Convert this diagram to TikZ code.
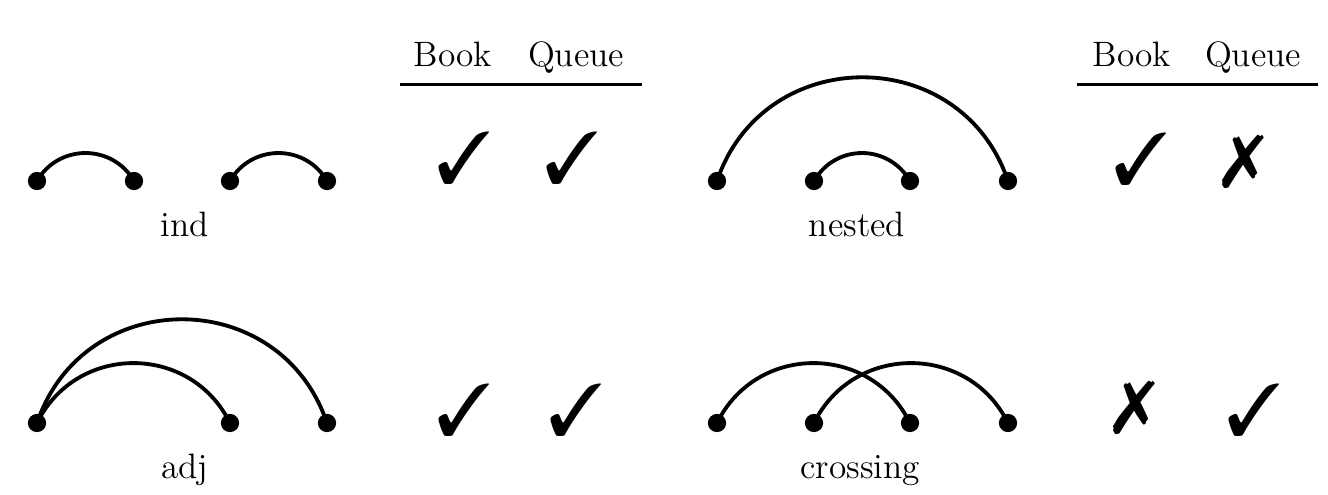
\documentclass[tikz,border=0pt]{standalone}
\usepackage{pifont}
\begin{document}
\begin{tikzpicture}[x=0.34pt,y=-0.34pt,
  dot/.style={circle,fill=black,inner sep=0pt,minimum size=6.2pt},
  arcline/.style={line width=1.3pt},
  lbl/.style={anchor=base,inner sep=0pt,font=\large},
  hdr/.style={anchor=base,inner sep=0pt,font=\large},
  rulel/.style={line width=0.9pt},
  tick/.style={inner sep=0pt,font=\Huge}]
\useasboundingbox (0,0) rectangle (1328,495);
% ---- ind ----
\node[dot] (i1) at (37,181) {};
\node[dot] (i2) at (134,181) {};
\node[dot] (i3) at (230,181) {};
\node[dot] (i4) at (327,181) {};
\draw[arcline] (i1.center) .. controls +(21.6,-37.3) and +(-21.6,-37.3) .. (i2.center);
\draw[arcline] (i3.center) .. controls +(21.6,-37.3) and +(-21.6,-37.3) .. (i4.center);
\node[lbl] (lind) at (185,236) {ind};
% ---- adj ----
\node[dot] (a1) at (37,423) {};
\node[dot] (a3) at (230,423) {};
\node[dot] (a4) at (327,423) {};
\draw[arcline] (a1.center) .. controls +(39.5,-79.9) and +(-39.5,-79.9) .. (a3.center);
\draw[arcline] (a1.center) .. controls +(46.8,-138.3) and +(-46.8,-138.3) .. (a4.center);
\node[lbl] (ladj) at (185,478) {adj};
% ---- nested ----
\node[dot] (n1) at (717,181) {};
\node[dot] (n2) at (814,181) {};
\node[dot] (n3) at (910,181) {};
\node[dot] (n4) at (1008,181) {};
\draw[arcline] (n1.center) .. controls +(46.8,-138.3) and +(-46.8,-138.3) .. (n4.center);
\draw[arcline] (n2.center) .. controls +(21.6,-37.3) and +(-21.6,-37.3) .. (n3.center);
\node[lbl] (lnested) at (857,236) {nested};
% ---- crossing ----
\node[dot] (c1) at (717,423) {};
\node[dot] (c2) at (814,423) {};
\node[dot] (c3) at (910,423) {};
\node[dot] (c4) at (1008,423) {};
\draw[arcline] (c1.center) .. controls +(39.5,-79.9) and +(-39.5,-79.9) .. (c3.center);
\draw[arcline] (c2.center) .. controls +(39.5,-79.9) and +(-39.5,-79.9) .. (c4.center);
\node[lbl] (lcross) at (860,478) {crossing};
% ---- tables ----
\node[hdr] (hb1) at (453,66) {Book};
\node[hdr] (hq1) at (576,66) {Queue};
\coordinate (r1a) at (400,84.5);
\coordinate (r1b) at (642,84.5);
\draw[rulel] (r1a) -- (r1b);
\node[hdr] (hb2) at (1132,66) {Book};
\node[hdr] (hq2) at (1253,66) {Queue};
\coordinate (r2a) at (1077,84.5);
\coordinate (r2b) at (1318,84.5);
\draw[rulel] (r2a) -- (r2b);
% ---- marks ----
\node[tick] (m1) at (464,158) {\ding{51}};
\node[tick] (m2) at (572,158) {\ding{51}};
\node[tick] (m3) at (1141,159) {\ding{51}};
\node[tick] (m4) at (1243,162) {\ding{55}};
\node[tick] (m5) at (464,410) {\ding{51}};
\node[tick] (m6) at (576,410) {\ding{51}};
\node[tick] (m7) at (1134,408) {\ding{55}};
\node[tick] (m8) at (1254,410) {\ding{51}};
\end{tikzpicture}
\end{document}
